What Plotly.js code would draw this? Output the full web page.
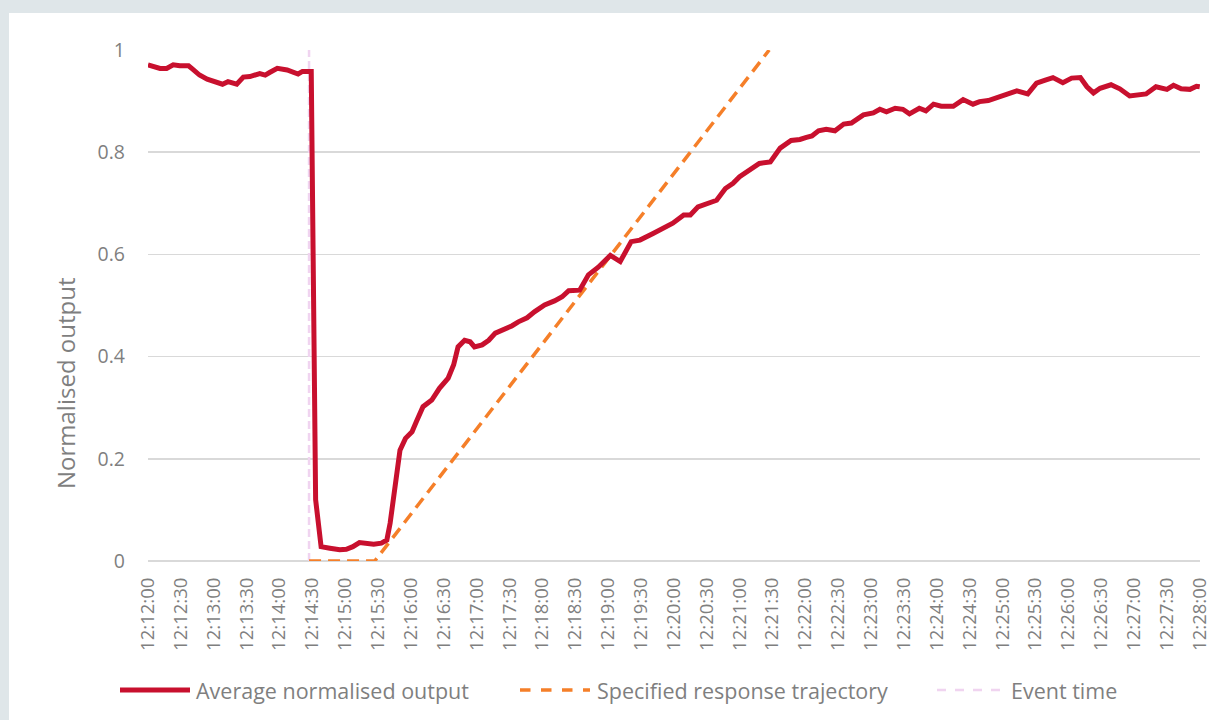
<!DOCTYPE html>
<html>
<head>
<meta charset="utf-8">
<script src="https://cdn.plot.ly/plotly-3.0.1.min.js"></script>
<style>
  html, body { margin:0; padding:0; background:#dfe6e9; width:1209px; height:720px; overflow:hidden; }
  #chart { position:absolute; left:9px; top:13px; width:1200px; height:707px; background:#fff; }
</style>
</head>
<body>
<div id="chart"></div>
<script>
// ---- data ----
const day = "2024-01-01 ";
const outputTimes = [
  "12:12:00","12:12:11","12:12:17","12:12:23","12:12:29","12:12:37","12:12:41","12:12:47","12:12:54","12:12:59",
  "12:13:08","12:13:13","12:13:21","12:13:27","12:13:33","12:13:42","12:13:47","12:13:51","12:13:58","12:14:07",
  "12:14:17","12:14:21","12:14:26","12:14:29","12:14:33","12:14:38","12:14:46","12:14:55","12:15:01","12:15:07",
  "12:15:13","12:15:20","12:15:26","12:15:33","12:15:38","12:15:41","12:15:44","12:15:47","12:15:50","12:15:55",
  "12:16:01","12:16:05","12:16:11","12:16:19","12:16:26","12:16:34","12:16:39","12:16:43","12:16:49","12:16:54",
  "12:16:58","12:17:05","12:17:11","12:17:17","12:17:24","12:17:32","12:17:38","12:17:46","12:17:53","12:18:02",
  "12:18:11","12:18:18","12:18:24","12:18:30","12:18:34","12:18:42","12:18:51","12:19:02","12:19:11","12:19:21",
  "12:19:29","12:19:41","12:19:52","12:19:59","12:20:09","12:20:15","12:20:22","12:20:30","12:20:39","12:20:47",
  "12:20:54","12:21:00","12:21:09","12:21:18","12:21:28","12:21:37","12:21:47","12:21:55","12:22:01","12:22:06",
  "12:22:12","12:22:19","12:22:27","12:22:35","12:22:42","12:22:53","12:23:02","12:23:08","12:23:14","12:23:22",
  "12:23:29","12:23:35","12:23:44","12:23:50","12:23:57","12:24:04","12:24:15","12:24:24","12:24:33","12:24:39",
  "12:24:47","12:24:58","12:25:04","12:25:13","12:25:23","12:25:31","12:25:39","12:25:46","12:25:55","12:26:03",
  "12:26:11","12:26:17","12:26:23","12:26:29","12:26:39","12:26:47","12:26:56","12:27:05","12:27:11","12:27:20",
  "12:27:30","12:27:36","12:27:43","12:27:51","12:27:57","12:28:00"
];
const outputValues = [
  0.971,0.964,0.964,0.971,0.969,0.969,0.962,0.951,0.943,0.940,
  0.933,0.938,0.933,0.947,0.948,0.954,0.951,0.956,0.964,0.961,
  0.953,0.958,0.958,0.958,0.120,0.028,0.025,0.022,0.023,0.028,
  0.036,0.035,0.033,0.035,0.041,0.074,0.119,0.159,0.217,0.240,
  0.253,0.273,0.302,0.315,0.338,0.358,0.384,0.419,0.432,0.429,
  0.419,0.423,0.432,0.446,0.452,0.460,0.468,0.476,0.488,0.501,
  0.509,0.517,0.529,0.529,0.530,0.560,0.575,0.598,0.586,0.625,
  0.628,0.641,0.654,0.661,0.677,0.677,0.693,0.699,0.706,0.729,
  0.739,0.752,0.764,0.778,0.781,0.808,0.823,0.825,0.829,0.832,
  0.842,0.845,0.842,0.855,0.857,0.873,0.877,0.884,0.879,0.886,
  0.884,0.875,0.886,0.881,0.894,0.890,0.890,0.903,0.894,0.899,
  0.901,0.909,0.913,0.920,0.914,0.935,0.941,0.946,0.936,0.945,
  0.946,0.928,0.916,0.925,0.932,0.924,0.910,0.912,0.914,0.928,
  0.923,0.931,0.924,0.923,0.929,0.928
];
const trajectoryTimes = ["12:14:27","12:15:27","12:21:27"];
const trajectoryValues = [0, 0, 1];
const eventTimes = ["12:14:27","12:14:27"];
const eventValues = [0, 1];
const yTickValues = [0, 0.2, 0.4, 0.6, 0.8, 1];
const yTickLabels = ["0", "0.2", "0.4", "0.6", "0.8", "1"];
const seriesNames = ["Average normalised output", "Specified response trajectory", "Event time"];
const yTitle = "Normalised output";

// ---- style ----
const FONT = "Open Sans, Noto Sans, sans-serif";
const GREY = "#7f7f7f";
const RED = "#c8102e";
const ORANGE = "#f57f29";
const PINK = "#f0d4f0";

const toDate = arr => arr.map(t => day + t);

const traces = [
  { x: toDate(eventTimes), y: eventValues, mode: "lines", name: seriesNames[2],
    line: { color: PINK, width: 2.5, dash: "8px,4px" }, hoverinfo: "skip" },
  { x: toDate(trajectoryTimes), y: trajectoryValues, mode: "lines", name: seriesNames[1],
    line: { color: ORANGE, width: 3.5, dash: "12px,7px" } },
  { x: toDate(outputTimes), y: outputValues, mode: "lines", name: seriesNames[0],
    line: { color: RED, width: 5 } }
];

// pixel helpers for the hand-drawn legend / title (div coordinates)
const W = 1200, H = 707, ML = 139, MR = 9, MT = 37, MB = 159;
const PW = W - ML - MR, PH = H - MT - MB;
const px = v => (v - ML) / PW;
const py = v => (H - MB - v) / PH;
const legY = 677;
const legendItems = [
  { x0: 111, x1: 181, tx: 185, color: RED, width: 5, dash: "solid", text: seriesNames[0] },
  { x0: 511, x1: 581, tx: 586, color: ORANGE, width: 3.5, dash: "dash", text: seriesNames[1] },
  { x0: 928, x1: 996, tx: 1000, color: PINK, width: 2.5, dash: "dash", text: seriesNames[2] }
];
const shapes = legendItems.map(it => ({
  type: "line", xref: "paper", yref: "paper",
  x0: px(it.x0), x1: px(it.x1), y0: py(legY), y1: py(legY),
  line: { color: it.color, width: it.width, dash: it.dash }
}));
const annotations = legendItems.map(it => ({
  xref: "paper", yref: "paper", x: px(it.tx), y: py(legY),
  xanchor: "left", yanchor: "middle", showarrow: false, text: it.text,
  font: { family: FONT, size: 21.5, color: GREY }
}));
annotations.push({
  xref: "paper", yref: "paper", x: px(56), y: py(370),
  xanchor: "center", yanchor: "middle", showarrow: false, textangle: -90,
  text: yTitle, font: { family: FONT, size: 24, color: GREY }
});

const layout = {
  width: W, height: H,
  margin: { l: ML, r: MR, t: MT, b: MB },
  paper_bgcolor: "#ffffff", plot_bgcolor: "#ffffff",
  showlegend: false,
  font: { family: FONT, color: GREY },
  xaxis: {
    type: "date",
    range: [day + "12:12:00", day + "12:28:00.2"],
    tick0: day + "12:12:00", dtick: 30000,
    tickformat: "%H:%M:%S", tickangle: -90,
    showgrid: false, zeroline: false, showline: false, ticks: "",
    ticklabelstandoff: 12, ticklabeloverflow: "allow",
    tickfont: { family: FONT, size: 18.5, color: GREY }
  },
  yaxis: {
    range: [0, 1],
    tickvals: yTickValues, ticktext: yTickLabels,
    showgrid: true, gridcolor: "#d9d9d9", gridwidth: 1.5,
    zeroline: true, zerolinecolor: "#d9d9d9", zerolinewidth: 1.5,
    showline: false, ticks: "",
    ticklabelstandoff: 22,
    tickfont: { family: FONT, size: 19.5, color: GREY }
  },
  shapes: shapes,
  annotations: annotations
};

Plotly.newPlot("chart", traces, layout, { displayModeBar: false, staticPlot: true });
</script>
</body>
</html>
